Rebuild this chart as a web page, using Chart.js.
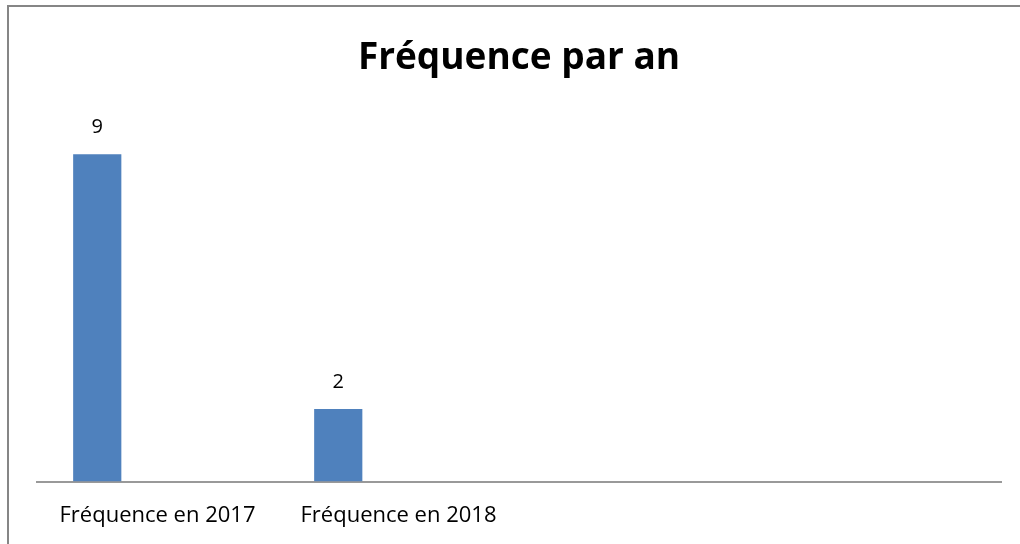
<!DOCTYPE html>
<html>
<head>
<meta charset="utf-8">
<script src="https://cdn.jsdelivr.net/npm/chart.js@4/dist/chart.umd.min.js"></script>
<style>
  html, body { margin: 0; padding: 0; background: #fff; }
  #wrap { position: relative; width: 1020px; height: 544px; overflow: hidden; }
  #frame {
    position: absolute; left: 7px; top: 5px; width: 1100px; height: 600px;
    border-left: 2px solid #868686; border-top: 2px solid #868686;
  }
  #chart { position: absolute; left: 0; top: 0; }
</style>
</head>
<body>
<div id="wrap">
  <div id="frame"></div>
  <canvas id="chart" width="1020" height="544"></canvas>
</div>
<script>
const categories = ['Fréquence en 2017', 'Fréquence en 2018', '', ''];
const frequence = [9, 2, null, null];
// second series is empty, it only keeps the bars left of the category centre like in the original
const serieVide = [null, null, null, null];
const yMax = 10;

const fontFamily = '"Open Sans", "Noto Sans", sans-serif';

// values over the bars
const valueLabels = {
  id: 'valueLabels',
  afterDatasetsDraw(chart) {
    const ctx = chart.ctx;
    const meta = chart.getDatasetMeta(0);
    ctx.save();
    ctx.font = '20px ' + fontFamily;
    ctx.fillStyle = '#000';
    ctx.textAlign = 'center';
    ctx.textBaseline = 'alphabetic';
    meta.data.forEach((bar, i) => {
      const v = frequence[i];
      if (v === null) return;
      ctx.fillText(String(v), bar.x, bar.y - 21);
    });
    ctx.restore();
  }
};

const ctx = document.getElementById('chart').getContext('2d');
const chart = new Chart(ctx, {
  type: 'bar',
  data: {
    labels: categories,
    datasets: [{
      label: 'Fréquence',
      data: frequence,
      backgroundColor: '#4F81BD',
      borderWidth: 0
    }, {
      label: '',
      data: serieVide,
      backgroundColor: '#C0504D'
    }]
  },
  options: {
    responsive: false,
    animation: false,
    categoryPercentage: 1.0,
    barPercentage: 0.4,
    layout: {
      padding: { left: 37, right: 19, top: 0, bottom: -6 }
    },
    plugins: {
      legend: { display: false },
      tooltip: { enabled: false },
      title: {
        display: true,
        text: 'Fréquence par an',
        color: '#000',
        font: { family: fontFamily, size: 37, weight: 'bold' },
        padding: { top: 36, bottom: 37.6 }
      }
    },
    scales: {
      x: {
        grid: { display: false, drawTicks: false },
        border: { display: true, color: '#999999', width: 2 },
        ticks: {
          color: '#000',
          padding: 21,
          autoSkip: false,
          maxRotation: 0,
          font: { family: fontFamily, size: 22 }
        }
      },
      y: {
        display: false,
        min: 0,
        max: yMax
      }
    }
  },
  plugins: [valueLabels]
});
</script>
</body>
</html>
